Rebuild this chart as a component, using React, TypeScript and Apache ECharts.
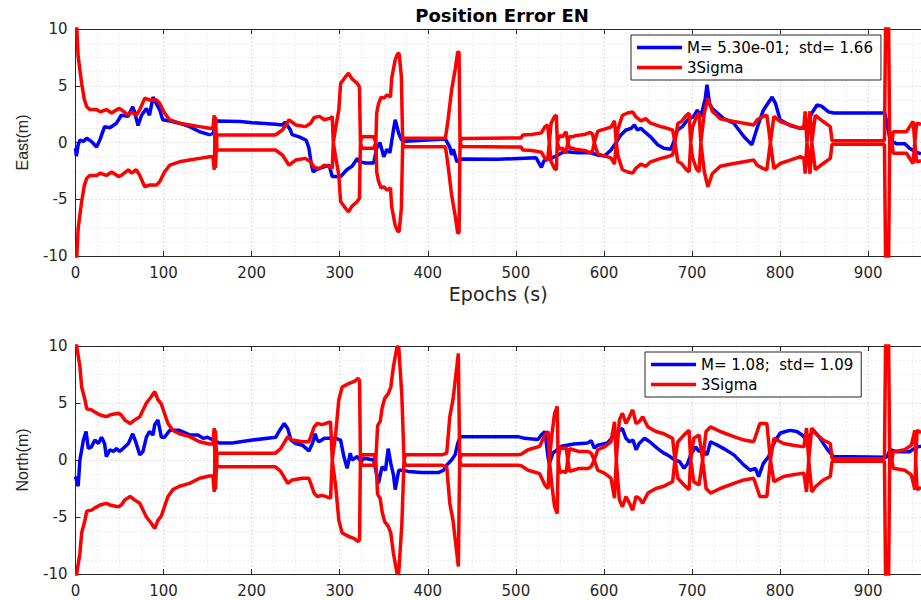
import React, { useEffect, useRef } from "react";
import * as echarts from "echarts";

const TITLE = "Position Error EN";
const X_NAME = "Epochs (s)";
const Y_NAMES = ["East(m)", "North(m)"];
const EAST_NAME = "M= 5.30e-01;  std= 1.66";
const NORTH_NAME = "M= 1.08;  std= 1.09";
const SIGMA_NAME = "3Sigma";

const eastErr: number[][] = [
  [0, -0.5], [1, -1.2], [3, -0.2], [5, 0.2], [9, 0.1], [12.7, 0.37], [18, 0.1], [24, -0.4], [28, 0.3], [33, 1.4],
  [39, 1.3], [46.5, 1.7], [52, 2.4], [59.6, 2.3], [65, 3.15], [67, 2.7], [71, 1.5], [75, 2.4], [80.5, 3.0], [84, 2.4],
  [88, 4.0], [92, 3.4], [96, 2.8], [99, 2.0], [107, 1.9], [118, 1.7], [129.5, 1.4], [141, 0.95], [152, 0.7], [156, 0.8],
  [160, 1.9], [187, 1.85], [201, 1.75], [227, 1.6], [235, 1.55], [238, 1.8], [244, 1.1], [246, 0.7], [254, 0.5],
  [262, 0.2], [265, -0.5], [268, -2.0], [270, -2.6], [273, -2.4], [280, -2.2], [288, -2.0], [291.5, -3.0], [301, -3.0],
  [308, -2.4], [314, -2.1], [320, -1.4], [322, -1.7], [329, -1.8], [338.6, -1.8], [342, -0.5], [345.6, 0.0],
  [350, -1.25], [353.6, -0.6], [357, -0.9], [361, 1.1], [363, 2.0], [367, 0.8], [370, 0.25], [374, 0.1], [420, 0.3],
  [425, -0.4], [427, -1.1], [429, -0.6], [433, -1.7], [438.6, -1.45], [480, -1.48], [523, -1.35], [529, -2.2],
  [532, -1.6], [540, -1.4], [548, -1.1], [555, -0.8], [570, -0.9], [585, -0.9], [593, -1.1], [600.5, -1.2],
  [608, -0.66], [615.6, 0.2], [619, 0.65], [625, 1.1], [631, 1.25], [634.5, 1.55], [638, 1.1], [642, 1.25],
  [646, 0.95], [653, 0.5], [661, -0.2], [668, -0.5], [676, -0.6], [680, 0.2], [683.5, 1.1], [689, 1.4], [695, 2.0],
  [702, 2.3], [706, 2.85], [710, 2.3], [715, 3.85], [717, 5.1], [720, 3.4], [723, 3.0], [736, 2.1], [747.5, 1.7],
  [759, 0.5], [768, -0.2], [774, 1.3], [781, 2.85], [791, 4.0], [795, 3.4], [800, 2.0], [811.5, 1.5], [823, 1.25],
  [829, 1.3], [836, 2.6], [842, 3.3], [847, 3.2], [855, 2.7], [861, 2.6], [919, 2.6], [925, 0.2], [932, -0.1],
  [941.5, -0.1], [947, -0.5], [953, -0.8], [960, -1.0],
];

const eastSig: number[][] = [
  [0, 15], [1.5, 10], [3, 7.6], [7, 5.2], [10, 3.8], [12.7, 3.15], [16.5, 2.9], [24, 2.9], [28, 2.7], [35, 2.9],
  [41, 2.6], [49, 3.0], [52, 2.9], [60, 2.4], [63.5, 2.7], [69, 2.4], [73, 2.9], [78.6, 3.9], [84, 3.75], [92, 3.75],
  [96, 3.4], [101, 2.6], [107, 2.0], [118, 1.7], [129.5, 1.55], [141, 1.4], [152, 1.25], [156, 1.25], [157.5, 2.4],
  [159, -2.25], [160.5, 0.66], [227, 0.66], [235, 1.1], [242.5, 2.0], [250, 1.55], [261, 1.4], [267, 1.7], [271, 2.2],
  [277, 2.3], [282.6, 2.0], [289.6, 2.15], [291.5, 2.3], [292.7, 0], [295, 1.1], [299, 2.9], [301, 5.2], [306.6, 5.8],
  [310, 6.1], [314, 5.6], [320, 5.2], [322.4, 4.9], [323.5, 0], [325, 0.5], [338.6, 0.5], [341, 0], [342, 2.6],
  [344, 3.4], [347, 4.0], [350, 3.9], [354, 4.2], [357.6, 4.0], [359, 5.65], [363, 7.3], [366, 7.85], [367.5, 7.8],
  [370, 5.8], [371.5, 0], [373, 0.37], [420, 0.37], [423, 2.0], [427, 4.6], [431, 6.4], [434, 8.0], [435.5, 7.9],
  [436.6, 0], [438.6, 0.35], [506, 0.4], [508, 0.66], [518, 0.7], [529, 0.85], [533, 1.4], [536, 1.55], [538, 0],
  [540, 1.7], [544, 2.3], [546, 2.4], [547, 0], [549.6, 0.6], [553, 0.5], [557, 0.95], [559, 0], [561, 0.5], [565, 0.5],
  [567, 0.6], [578, 0.7], [584, 0.9], [587, 0.75], [589, 0], [593, 1.0], [608, 1.35], [612, 1.9], [614, 0], [616, 1.2],
  [621, 2.4], [627, 2.6], [632.6, 2.7], [636.4, 2.25], [642, 1.9], [647.6, 2.1], [653, 1.7], [664.6, 1.4], [672, 1.25],
  [678, 1.1], [680.6, 0], [684, 1.7], [688, 1.85], [692.6, 2.3], [696.7, 2.6], [698.5, 0], [700.5, 1.3], [705, 2.3],
  [708, 2.6], [710, 0], [714, 2.6], [718, 3.9], [723, 2.75], [732, 2.1], [747.5, 1.85], [759, 1.7], [770, 1.55],
  [774, 2.0], [781, 2.3], [785, 2.4], [789, 0], [793, 2.3], [800, 1.85], [811.5, 1.55], [823, 1.25], [827, 1.4],
  [828.5, 2.75], [830.5, 0], [834, 2.75], [836, 0], [840, 2.4], [849, 1.85], [857, 1.4], [859, 0.15], [918.5, 0.15],
  [920, 12], [923, 12], [924.5, 0], [927, 0], [928.5, 0.95], [943.5, 0.95], [951, 1.85], [953, 0], [955, 1.7],
  [960, 1.6],
];

const northErr: number[][] = [
  [0, -1.45], [3, -2.3], [5, 0], [9, 1.75], [12, 2.5], [14.6, 1.0], [18, 1.15], [22, 1.75], [26, 1.45], [29.6, 2.0],
  [33, 1.45], [35, 0.3], [39, 0.9], [43, 0.75], [46.5, 1.0], [50, 0.75], [54, 1.0], [60, 1.45], [65, 2.3], [69, 1.45],
  [73, 0.45], [76.6, 0.75], [80.5, 2.0], [84, 2.5], [88, 2.2], [90, 3.1], [93.6, 3.5], [97.5, 2.0], [101, 2.0],
  [107, 2.6], [118, 2.6], [129.5, 2.2], [139, 2.2], [145, 1.9], [150, 2.0], [156, 1.75], [163, 1.5], [178, 1.5],
  [201, 1.75], [227.5, 2.0], [231, 2.5], [237, 3.2], [241, 2.75], [244.6, 1.75], [250, 1.45], [257.6, 1.3], [265, 0.8],
  [269, 1.45], [272, 2.3], [274.5, 1.75], [276.5, 1.6], [282.6, 1.9], [295.5, 1.9], [301, 1.75], [304.7, 0.3],
  [308.4, -0.73], [312, 0.6], [314, 0], [320, 0.3], [324, -0.15], [328, 0.15], [338.6, 0], [344, -2.05], [348, -0.6],
  [352, -0.9], [355, 1.0], [358, -0.3], [361, -1.3], [363, -2.6], [367, -0.9], [370.6, -0.9], [378, -1.0], [393, -1.1],
  [412, -1.1], [418, -0.9], [421.5, -0.45], [427, 0], [431, 0.45], [434, 1.45], [437, 2.05], [502.5, 2.05], [510, 1.9],
  [525, 1.8], [529, 2.2], [533, 2.5], [536.6, 0.2], [538, -0.3], [542, 0.6], [551.5, 1.2], [566, 1.4], [581.7, 1.5],
  [585.5, 1.7], [589, 1.05], [593, 1.3], [604, 1.5], [612, 2.2], [617.5, 2.6], [621, 2.75], [625, 1.9], [629, 1.6],
  [633, 1.75], [636.5, 0.9], [640, 1.45], [646, 1.9], [652, 1.6], [661, 1.0], [668, 0.6], [672, 0.45], [680.6, 0],
  [686, -0.15], [691, -0.73], [695, -0.3], [698.5, 0.45], [704, 1.15], [708, 0.75], [712, 0.9], [717, 0.45],
  [721, 1.6], [725, 1.45], [729, 1.3], [736, 1.0], [747.5, 0.45], [759, -0.45], [766, -0.9], [772, -0.73],
  [775.6, -1.45], [781, -0.3], [787, 0.3], [791, 1.15], [795, 1.75], [800, 2.35], [806, 2.5], [811.5, 2.6], [819, 2.5],
  [825, 2.2], [830, 1.75], [838, 2.6], [844, 2.05], [853, 1.0], [860.6, 0.3], [921, 0.25], [925, 0.9], [932, 0.73],
  [947, 0.73], [955, 1.15], [960, 1.2],
];

const northSig: number[][] = [
  [0, 12], [1.5, 9.9], [5, 8.2], [7, 6.4], [10.7, 5.3], [12.7, 4.5], [18, 4.4], [22, 4.2], [28, 3.95], [35, 3.8],
  [41, 4.0], [49, 4.1], [52, 3.95], [56, 3.5], [62, 3.2], [67, 3.5], [73, 3.8], [80.5, 5.0], [86, 5.55], [90, 6.0],
  [93.6, 5.3], [97.5, 4.9], [101, 4.1], [105, 3.2], [110.6, 2.6], [118, 2.3], [129.5, 2.05], [141, 1.6], [152, 1.4],
  [156, 1.4], [157.5, 2.8], [159, -2.6], [160.5, 0.6], [227, 0.6], [233, 1.0], [241, 2.05], [246, 1.75], [257.6, 1.6],
  [265, 1.6], [271, 2.9], [274.5, 3.2], [280, 3.1], [289.6, 3.35], [291.5, 0], [295.5, 2.35], [299, 5.3], [302.8, 6.4],
  [310, 6.7], [316.6, 6.9], [321, 7.15], [322.5, 7.0], [323.5, 0], [325, 0.45], [338.6, 0.45], [341, 0], [343, 3.0],
  [346, 3.4], [348, 4.5], [351, 5.4], [355, 5.8], [358, 6.4], [361, 8.2], [365, 9.9], [367, 9.95], [370.6, 5.55],
  [373, 0], [374.5, 0.45], [416, 0.45], [421.5, 0.6], [425, 3.8], [428.6, 5.3], [433, 8.2], [434.7, 9.35], [436.2, 0],
  [438, 0.45], [502.5, 0.45], [506, 0.5], [514, 0.9], [527, 1.2], [533, 2.2], [536.6, 2.5], [538, 0], [541, 2.3],
  [544, 4.1], [547, 4.7], [548, 0], [550, 1.1], [553, 1.0], [557, 1.1], [559, 0], [561, 1.0], [565, 0.9], [571, 0.75],
  [582, 0.75], [585.5, 0.6], [589, 0], [593, 0.9], [600.5, 1.15], [608, 1.6], [612, 3.35], [614, 0], [617.5, 3.5],
  [621, 4.1], [625, 3.2], [629, 3.8], [632.6, 4.4], [636.5, 3.2], [640, 3.35], [644, 3.8], [650, 2.9], [659, 2.5],
  [668, 2.3], [678, 1.9], [680.6, 0], [684, 1.6], [691, 2.2], [696.7, 2.6], [698.5, 0], [702, 1.9], [708, 2.2],
  [712, 0], [716, 2.5], [721, 2.9], [732, 2.5], [747.5, 2.05], [759, 1.75], [770, 1.6], [774, 2.5], [777, 3.2],
  [785, 3.2], [789, 0], [793, 1.9], [804, 1.45], [815, 1.3], [827, 1.15], [830, 2.8], [832.5, 0], [836, 2.8],
  [840, 2.35], [849, 1.75], [857, 1.45], [859, 0.12], [918.5, 0.12], [920, 12], [923, 12], [924.5, 0], [927, 0],
  [928.5, 0.73], [941.5, 0.9], [949, 1.3], [953, 2.6], [954, 0], [955.5, 2.6], [960, 2.4],
];

const FONT = "DejaVu Sans";
const AX = "#262626";

function xAxisFor(gridIndex: number, bottom: boolean, name?: string) {
  return {
    type: "value",
    gridIndex,
    position: bottom ? "bottom" : "top",
    min: 0,
    max: 960,
    interval: 100,
    name: name || "",
    nameLocation: "middle",
    nameGap: 28,
    nameTextStyle: { fontFamily: FONT, fontSize: 19, color: AX },
    axisLine: { show: true, onZero: false, lineStyle: { color: AX, width: 1 } },
    axisTick: { show: true, inside: true, length: 5, lineStyle: { color: AX } },
    axisLabel: {
      show: bottom,
      color: AX,
      fontFamily: FONT,
      fontSize: 15,
      margin: 9,
      showMaxLabel: false,
    },
    splitLine: { show: bottom, lineStyle: { color: "#c4c4c4", type: [1, 3] } },
    minorTick: { show: bottom, splitNumber: 4, length: 0 },
    minorSplitLine: { show: bottom, lineStyle: { color: "#dcdcdc", type: [1, 3] } },
  };
}

function yAxisFor(gridIndex: number, name: string) {
  return {
    type: "value",
    gridIndex,
    min: -10,
    max: 10,
    interval: 5,
    name,
    nameLocation: "middle",
    nameGap: 45,
    nameTextStyle: { fontFamily: "Liberation Sans", fontSize: 16, color: AX },
    axisLine: { show: true, onZero: false, lineStyle: { color: AX, width: 1 } },
    axisTick: { show: true, inside: true, length: 5, lineStyle: { color: AX } },
    axisLabel: { color: AX, fontFamily: FONT, fontSize: 15, margin: 8 },
    splitLine: { show: true, lineStyle: { color: "#c4c4c4", type: [1, 3] } },
    minorTick: { show: true, splitNumber: 4, length: 0 },
    minorSplitLine: { show: true, lineStyle: { color: "#dcdcdc", type: [1, 3] } },
  };
}

function lineSeries(name: string, data: number[][], color: string, axisIndex: number, z: number) {
  return {
    type: "line",
    name,
    data,
    xAxisIndex: axisIndex * 2,
    yAxisIndex: axisIndex,
    symbol: "none",
    showSymbol: false,
    clip: true,
    z,
    lineStyle: { color, width: 3.5 },
    itemStyle: { color },
  };
}

const neg = (arr: number[][]) => arr.map(([x, y]) => [x, -y]);

function legendFor(left: number, top: number, data: string[]) {
  return {
    left,
    top,
    orient: "vertical",
    data,
    icon: "rect",
    selectedMode: false,
    backgroundColor: "#ffffff",
    borderColor: AX,
    borderWidth: 1,
    padding: [5, 8, 5, 6],
    itemWidth: 45,
    itemHeight: 3.5,
    itemGap: 5,
    textStyle: { fontFamily: FONT, fontSize: 15, lineHeight: 14, color: "#000" },
  };
}

export default function App() {
  const ref = useRef<HTMLDivElement>(null);
  useEffect(() => {
    if (!ref.current) return;
    const chart = echarts.init(ref.current, undefined, { renderer: "svg" });
    chart.setOption({
      animation: false,
      backgroundColor: "#ffffff",
      grid: [
        { left: 75.5, top: 29, width: 849, height: 227 },
        { left: 75.5, top: 346, width: 849, height: 228 },
      ],
      xAxis: [
        xAxisFor(0, true, X_NAME),
        xAxisFor(0, false),
        xAxisFor(1, true),
        xAxisFor(1, false),
      ],
      yAxis: [yAxisFor(0, Y_NAMES[0]), yAxisFor(1, Y_NAMES[1])],
      legend: [
        legendFor(631, 35, [EAST_NAME, SIGMA_NAME]),
        legendFor(645, 352, [NORTH_NAME, SIGMA_NAME]),
      ],
      graphic: [
        {
          type: "text",
          x: 502,
          y: 15,
          z: 10,
          style: {
            text: TITLE,
            fill: "#000",
            fontFamily: FONT,
            fontWeight: "bold",
            fontSize: 18,
            textAlign: "center",
            textVerticalAlign: "middle",
          },
        },
      ],
      series: [
        lineSeries(EAST_NAME, eastErr, "#0000ff", 0, 2),
        lineSeries(SIGMA_NAME, eastSig, "#ff0000", 0, 3),
        lineSeries(SIGMA_NAME, neg(eastSig), "#ff0000", 0, 3),
        lineSeries(NORTH_NAME, northErr, "#0000ff", 1, 2),
        lineSeries(SIGMA_NAME, northSig, "#ff0000", 1, 3),
        lineSeries(SIGMA_NAME, neg(northSig), "#ff0000", 1, 3),
      ],
    });
    return () => chart.dispose();
  }, []);
  return (
    <div
      ref={ref}
      style={{ position: "absolute", left: 0, top: 0, width: 921, height: 600, overflow: "hidden", background: "#fff" }}
    />
  );
}
